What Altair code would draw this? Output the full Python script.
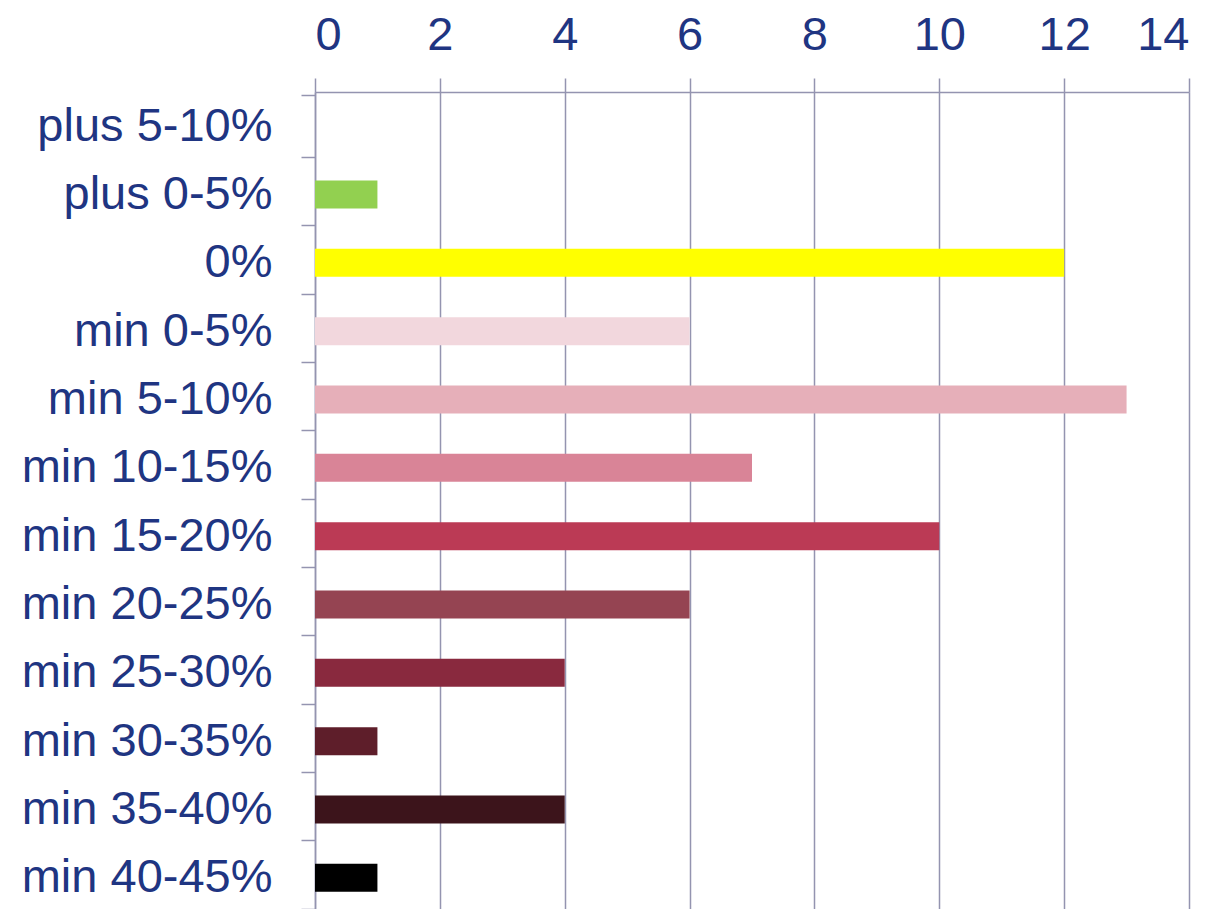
import altair as alt
import pandas as pd

categories = ["plus 5-10%", "plus 0-5%", "0%", "min 0-5%", "min 5-10%", "min 10-15%",
              "min 15-20%", "min 20-25%", "min 25-30%", "min 30-35%", "min 35-40%", "min 40-45%"]
values = [0, 1, 12, 6, 13, 7, 10, 6, 4, 1, 4, 1]
colors = ["#92d050", "#92d050", "#ffff00", "#f2d7dd", "#e6afb9", "#d98497",
          "#bb3a55", "#954452", "#89293e", "#5e1e2a", "#3c141b", "#000000"]
x_ticks = [0, 2, 4, 6, 8, 10, 12, 14]

df = pd.DataFrame({"cat": categories, "val": values})

label_color = "#1f3582"
line_color = "#9494b0"

chart = alt.Chart(df).mark_bar(size=28).encode(
    x=alt.X("val:Q",
            scale=alt.Scale(domain=[0, 14], nice=False),
            axis=alt.Axis(orient="top", values=x_ticks, title=None, grid=True,
                          gridColor=line_color, gridWidth=1.5,
                          domainColor=line_color, domainWidth=1.5,
                          tickColor=line_color, tickWidth=1.5, tickSize=14,
                          labelFont="Liberation Sans", labelFontSize=47,
                          labelColor=label_color, labelPadding=19)),
    y=alt.Y("cat:N", sort=categories,
            axis=alt.Axis(title=None, grid=False, tickBand="extent",
                          domainColor=line_color, domainWidth=1.5,
                          tickColor=line_color, tickWidth=1.5, tickSize=14,
                          labelFont="Liberation Sans", labelFontSize=47,
                          labelColor=label_color, labelPadding=29,
                          labelLimit=400)),
    color=alt.Color("cat:N", scale=alt.Scale(domain=categories, range=colors), legend=None),
).properties(
    width=874,
    height=820,
    autosize=alt.AutoSizeParams(type="none"),
    padding={"left": 307, "top": 84, "right": 20, "bottom": 0},
).configure_view(stroke=None)

chart.save("out.html", embed_options={"renderer": "svg", "actions": False})
